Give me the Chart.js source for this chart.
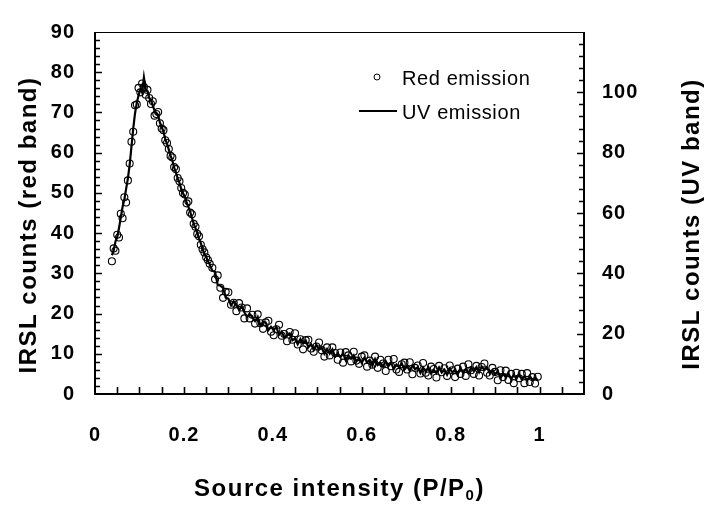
<!DOCTYPE html>
<html><head><meta charset="utf-8">
<script src="https://cdn.jsdelivr.net/npm/chart.js@4/dist/chart.umd.min.js"></script>
<style>html,body{margin:0;padding:0;background:#fff;}canvas{display:block;}</style>
</head><body>
<canvas id="c" width="723" height="505"></canvas>
<script>
// ---- data ----
const sourceIntensity = [
0.038,0.042,0.046,0.050,0.054,0.058,0.062,0.066,0.070,0.074,0.078,0.082,0.086,0.090,0.094,0.098,0.102,0.106,0.110,0.114,
0.118,0.122,0.126,0.130,0.134,0.138,0.142,0.146,0.150,0.154,0.158,0.162,0.166,0.170,0.174,0.178,0.182,0.186,0.190,0.194,
0.198,0.202,0.206,0.210,0.214,0.218,0.222,0.226,0.230,0.234,0.238,0.242,0.246,0.250,0.254,0.258,
0.264,0.270,0.276,0.282,0.288,0.294,0.300,0.306,0.312,0.318,0.324,0.330,0.336,0.342,0.348,0.354,0.360,0.366,0.372,0.378,
0.384,0.390,0.396,0.402,0.408,0.414,0.420,0.426,0.432,0.438,0.444,0.450,0.456,0.462,0.468,0.474,0.480,0.486,0.492,0.498,
0.504,0.510,0.516,0.522,0.528,0.534,0.540,0.546,0.552,0.558,0.564,0.570,0.576,0.582,0.588,0.594,0.600,0.606,0.612,0.618,
0.624,0.630,0.636,0.642,0.648,0.654,0.660,0.666,0.672,0.678,0.684,0.690,0.696,0.702,0.708,0.714,0.720,0.726,0.732,0.738,
0.744,0.750,0.756,0.762,0.768,0.774,0.780,0.786,0.792,0.798,0.804,0.810,0.816,0.822,0.828,0.834,0.840,0.846,0.852,0.858,
0.864,0.870,0.876,0.882,0.888,0.894,0.900,0.906,0.912,0.918,0.924,0.930,0.936,0.942,0.948,0.954,0.960,0.966,0.972,0.978,
0.984,0.990,0.996];

const redEmission = [
33.0,36.2,35.6,39.6,38.9,44.8,43.7,48.9,47.6,53.1,57.3,62.7,65.2,71.8,72.0,76.1,75.0,77.2,76.3,74.4,
75.6,73.6,72.1,72.8,69.2,69.6,70.1,67.3,66.0,65.6,63.1,62.4,60.9,59.2,58.8,56.4,55.9,53.7,52.9,51.2,
50.0,49.6,47.4,47.9,45.1,44.7,42.3,41.6,39.8,39.2,37.1,36.0,35.2,34.0,33.3,32.4,
31.4,28.5,29.5,26.4,23.9,25.4,25.3,22.2,22.7,20.6,22.6,21.5,18.8,21.3,18.8,19.7,17.5,19.8,17.6,16.2,
17.8,18.2,15.5,14.6,16.1,17.2,14.5,14.9,13.1,15.4,13.5,15.1,12.3,13.6,11.1,13.4,13.5,11.3,10.5,11.8,
12.8,10.9,9.3,11.6,9.6,11.6,10.2,8.5,10.3,7.8,10.4,9.6,8.1,10.5,8.3,7.5,9.3,9.6,6.8,8.3,
7.3,9.3,6.5,8.5,7.6,5.7,8.5,6.9,8.7,6.1,5.5,7.4,7.8,6.1,7.9,4.9,6.5,7.1,5.1,7.7,
5.3,4.6,6.8,6.2,4.1,7.0,5.4,6.4,4.5,7.1,5.9,4.2,6.3,5.0,6.8,4.5,7.4,5.9,5.0,7.0,
4.6,6.7,7.6,5.3,4.6,6.5,5.5,3.4,5.9,4.2,5.8,3.5,5.0,2.7,5.3,3.9,5.0,2.7,5.2,3.0,
4.2,2.6,4.3];

const uvEmission = [
46.0,47.5,50.5,52.0,55.0,58.5,62.0,64.5,68.0,71.5,76.0,82.0,88.0,93.0,96.5,99.0,101.0,100.0,105.0,101.0,
100.5,98.0,97.5,95.5,94.0,93.0,92.5,90.0,88.5,87.0,84.5,83.0,81.0,79.0,77.5,75.0,73.5,71.5,70.0,68.0,
66.5,65.5,63.5,62.0,60.5,58.5,56.5,55.0,53.5,51.5,50.0,48.0,46.5,45.5,44.0,43.0,
40.8,40.5,36.2,35.9,35.2,31.9,31.6,29.4,30.7,29.7,27.8,29.1,27.1,25.5,26.5,25.4,24.2,25.6,22.7,23.8,
23.7,21.2,22.3,21.2,22.2,19.6,20.7,18.6,19.5,20.1,17.8,18.4,16.5,18.2,16.7,17.7,15.5,16.5,14.6,16.3,
14.7,15.3,13.3,14.9,13.4,14.8,12.4,13.4,12.2,13.5,11.2,12.8,11.7,12.8,10.8,11.9,10.3,12.0,10.5,11.3,
9.4,11.6,9.6,10.3,9.1,10.9,9.2,10.4,8.3,9.8,8.9,10.2,8.1,9.2,7.7,9.4,8.2,8.9,7.0,8.8,
7.4,8.9,6.8,8.0,6.9,8.8,7.1,8.1,6.4,8.4,7.2,8.0,6.5,8.6,7.0,8.3,6.9,8.7,7.7,8.9,
7.2,9.1,8.0,8.8,6.9,7.9,6.5,7.5,5.3,6.7,5.6,6.9,4.9,6.4,5.0,6.6,4.8,5.9,4.4,6.0,
4.6,5.5,4.5];

const seriesNames = ['Red emission', 'UV emission'];
const xTickValues = [0, 0.2, 0.4, 0.6, 0.8, 1];
const leftTickValues = [0, 10, 20, 30, 40, 50, 60, 70, 80, 90];
const rightTickValues = [0, 20, 40, 60, 80, 100];
const xTitle = ['Source intensity (P/P', '0', ')'];
const leftTitle = 'IRSL counts (red band)';
const rightTitle = 'IRSL counts (UV band)';

// ---- chart ----
const FAM = '"Liberation Sans", Arial, sans-serif';
const tickFont = { family: FAM, size: 20, weight: 'bold' };

function keepTicks(list) {
  return s => { s.ticks = list.map(v => ({ value: v })); };
}

const decorPlugin = {
  id: 'decor',
  beforeDraw(chart) { chart.ctx.letterSpacing = '1px'; },
  afterDraw(chart) {
    const ctx = chart.ctx, a = chart.chartArea;
    const sx = chart.scales.x, sl = chart.scales.y, sr = chart.scales.y2;
    ctx.save();
    ctx.strokeStyle = '#000';
    ctx.fillStyle = '#000';
    // frame
    ctx.lineWidth = 2;
    ctx.beginPath();
    ctx.moveTo(a.left, a.top); ctx.lineTo(a.left, a.bottom); ctx.lineTo(a.right, a.bottom); ctx.lineTo(a.right, a.top);
    ctx.stroke();
    ctx.lineWidth = 1;
    ctx.beginPath(); ctx.moveTo(a.left, a.top + 0.5); ctx.lineTo(a.right, a.top + 0.5); ctx.stroke();
    // inward ticks
    ctx.lineWidth = 1.6;
    ctx.beginPath();
    for (let i = 1; i <= 21; i++) {
      const px = Math.round(sx.getPixelForValue(i * 0.05)) + 0.5;
      ctx.moveTo(px, a.bottom); ctx.lineTo(px, a.bottom - 7);
    }
    for (let v = 2; v < 90; v += 2) {
      const py = Math.round(sl.getPixelForValue(v)) + 0.5;
      const len = v % 10 === 0 ? 7 : 5;
      ctx.moveTo(a.left, py); ctx.lineTo(a.left + len, py);
    }
    for (let v = 4; v < 120; v += 4) {
      const py = Math.round(sr.getPixelForValue(v)) + 0.5;
      const len = v % 20 === 0 ? 7 : 5;
      ctx.moveTo(a.right, py); ctx.lineTo(a.right - len, py);
    }
    ctx.stroke();

    // axis titles
    const titleFont = 'bold 24px ' + FAM;
    ctx.letterSpacing = '1.5px';
    ctx.font = titleFont;
    ctx.textBaseline = 'alphabetic';
    const subFont = 'bold 15px ' + FAM;
    const w0 = ctx.measureText(xTitle[0]).width;
    ctx.font = subFont; const w1 = ctx.measureText(xTitle[1]).width;
    ctx.font = titleFont; const w2 = ctx.measureText(xTitle[2]).width;
    let tx = (a.left + a.right) / 2 - (w0 + w1 + w2) / 2;
    const ty = 496;
    ctx.textAlign = 'left';
    ctx.fillText(xTitle[0], tx, ty); tx += w0;
    ctx.font = subFont; ctx.fillText(xTitle[1], tx, ty + 4); tx += w1;
    ctx.font = titleFont; ctx.fillText(xTitle[2], tx, ty);
    ctx.textAlign = 'center';
    ctx.save(); ctx.translate(36, (a.top + a.bottom) / 2 + 12); ctx.rotate(-Math.PI / 2);
    ctx.fillText(leftTitle, 0, 0); ctx.restore();
    ctx.save(); ctx.translate(699, (a.top + a.bottom) / 2 + 11); ctx.rotate(-Math.PI / 2);
    ctx.fillText(rightTitle, 0, 0); ctx.restore();

    // legend
    ctx.letterSpacing = '0.6px';
    ctx.font = '20px ' + FAM;
    ctx.textAlign = 'left';
    ctx.lineWidth = 1;
    ctx.beginPath(); ctx.arc(377, 77, 3, 0, Math.PI * 2); ctx.stroke();
    ctx.fillText(chart.data.datasets[0].label, 402, 85);
    ctx.lineWidth = 2;
    ctx.beginPath(); ctx.moveTo(359, 111); ctx.lineTo(397, 111); ctx.stroke();
    ctx.fillText(chart.data.datasets[1].label, 402, 119);
    ctx.restore();
  }
};

new Chart(document.getElementById('c').getContext('2d'), {
  type: 'scatter',
  data: {
    datasets: [
      {
        label: seriesNames[0],
        data: sourceIntensity.map((x, i) => ({ x: x, y: redEmission[i] })),
        yAxisID: 'y', showLine: false,
        pointStyle: 'circle', pointRadius: 3.5, pointBorderWidth: 1.1,
        borderColor: '#000', backgroundColor: 'rgba(0,0,0,0)', order: 2
      },
      {
        label: seriesNames[1],
        data: sourceIntensity.map((x, i) => ({ x: x, y: uvEmission[i] })),
        yAxisID: 'y2', showLine: true, tension: 0,
        borderColor: '#000', borderWidth: 2.2, pointRadius: 0, order: 1
      }
    ]
  },
  options: {
    responsive: false, animation: false, devicePixelRatio: 1,
    layout: { padding: { top: 18, left: 0, right: 0, bottom: 0 } },
    plugins: { legend: { display: false }, tooltip: { enabled: false } },
    scales: {
      x: {
        type: 'linear', min: 0, max: 1.1,
        grid: { display: false, drawTicks: false }, border: { display: false },
        afterBuildTicks: keepTicks(xTickValues),
        ticks: { padding: 29, color: '#000', font: tickFont, maxRotation: 0,
                 callback: v => String(Math.round(v * 10) / 10) },
        afterFit: s => { s.height = 111; }
      },
      y: {
        position: 'left', min: 0, max: 90,
        grid: { display: false, drawTicks: false }, border: { display: false },
        afterBuildTicks: keepTicks(leftTickValues),
        ticks: { padding: 20, color: '#000', font: tickFont },
        afterFit: s => { s.width = 95; }
      },
      y2: {
        position: 'right', min: 0, max: 120,
        grid: { display: false, drawTicks: false }, border: { display: false },
        afterBuildTicks: keepTicks(rightTickValues),
        ticks: { padding: 18, color: '#000', font: tickFont },
        afterFit: s => { s.width = 139; }
      }
    }
  },
  plugins: [decorPlugin]
});
</script>
</body></html>
